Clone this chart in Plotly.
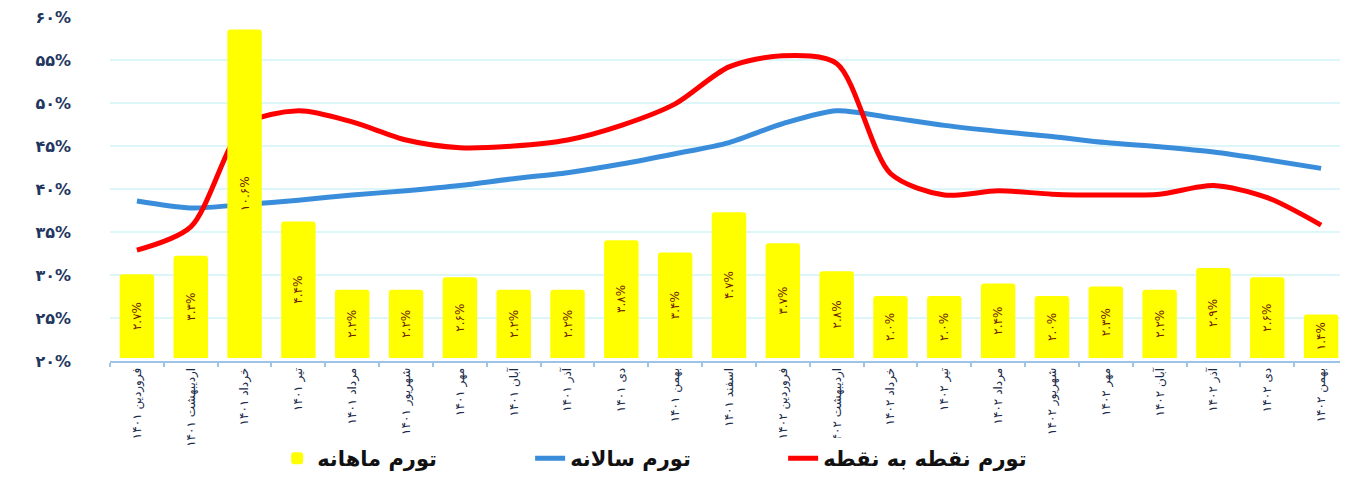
import plotly.graph_objects as go

categories = [
    "فروردین ۱۴۰۱", "اردیبهشت ۱۴۰۱", "خرداد ۱۴۰۱", "تیر ۱۴۰۱", "مرداد ۱۴۰۱",
    "شهریور ۱۴۰۱", "مهر ۱۴۰۱", "آبان ۱۴۰۱", "آذر ۱۴۰۱", "دی ۱۴۰۱",
    "بهمن ۱۴۰۱", "اسفند ۱۴۰۱", "فروردین ۱۴۰۲", "اردیبهشت ۱۴۰۲", "خرداد ۱۴۰۲",
    "تیر ۱۴۰۲", "مرداد ۱۴۰۲", "شهریور ۱۴۰۲", "مهر ۱۴۰۲", "آبان ۱۴۰۲",
    "آذر ۱۴۰۲", "دی ۱۴۰۲", "بهمن ۱۴۰۲",
]

monthly = [2.7, 3.3, 10.6, 4.4, 2.2, 2.2, 2.6, 2.2, 2.2, 3.8, 3.4, 4.7,
           3.7, 2.8, 2.0, 2.0, 2.4, 2.0, 2.3, 2.2, 2.9, 2.6, 1.4]
monthly_labels = ["۲.۷%", "۳.۳%", "۱۰.۶%", "۴.۴%", "۲.۲%", "۲.۲%", "۲.۶%", "۲.۲%",
                  "۲.۲%", "۳.۸%", "۳.۴%", "۴.۷%", "۳.۷%", "۲.۸%", "۲.۰%", "۲.۰%",
                  "۲.۴%", "۲.۰%", "۲.۳%", "۲.۲%", "۲.۹%", "۲.۶%", "۱.۴%"]

annual = [38.6, 37.8, 38.2, 38.7, 39.3, 39.8, 40.4, 41.2, 41.9, 42.9, 44.1, 45.4,
          47.6, 49.1, 48.3, 47.4, 46.7, 46.1, 45.4, 44.9, 44.3, 43.4, 42.4]

point_to_point = [32.9, 35.6, 47.4, 49.1, 47.8, 45.7, 44.8, 45.0, 45.7, 47.4, 49.9, 54.2,
                  55.5, 54.6, 41.8, 39.3, 39.8, 39.4, 39.3, 39.4, 40.4, 39.0, 35.8]

y_tickvals = [20, 25, 30, 35, 40, 45, 50, 55, 60]
y_ticktext = ["۲۰%", "۲۵%", "۳۰%", "۳۵%", "۴۰%", "۴۵%", "۵۰%", "۵۵%", "۶۰%"]

name_monthly = "تورم ماهانه"
name_annual = "تورم سالانه"
name_p2p = "تورم نقطه به نقطه"

FONT = "DejaVu Sans"
NAVY = "#1f3760"

fig = go.Figure()

fig.add_trace(go.Bar(
    x=categories, y=monthly, name=name_monthly, yaxis="y2",
    marker=dict(color="#ffff00", line=dict(width=0)),
    text=monthly_labels, textposition="inside", insidetextanchor="middle",
    textangle=-90, textfont=dict(family=FONT, size=12, color="#6e1b00"),
    width=0.64,
))

fig.add_trace(go.Scatter(
    x=categories, y=annual, name=name_annual, mode="lines",
    line=dict(color="#3a8ddb", width=5, shape="spline", smoothing=0.8),
))

fig.add_trace(go.Scatter(
    x=categories, y=point_to_point, name=name_p2p, mode="lines",
    line=dict(color="#ff0000", width=5, shape="spline", smoothing=0.8),
))

fig.update_layout(
    width=1340, height=471,
    margin=dict(l=102, r=0, t=9, b=115),
    paper_bgcolor="white", plot_bgcolor="white",
    barcornerradius=3,
    showlegend=True,
    legend=dict(
        orientation="h", x=0.135, xanchor="left", y=-0.285, yanchor="middle",
        font=dict(family=FONT, size=21, color="#111111", weight="bold"),
        entrywidth=208, traceorder="normal",
    ),
    xaxis=dict(
        type="category", range=[-0.5, 22.5], automargin=False,
        tickangle=-90, tickfont=dict(family=FONT, size=12, color="#1a2b4a"),
        showline=True, linecolor="#9dc3e6", linewidth=2,
        ticks="outside", tickcolor="#9dc3e6", ticklen=4, tickwidth=2,
        tickson="boundaries", showgrid=False, fixedrange=True,
    ),
    yaxis=dict(
        range=[20, 60], tickvals=y_tickvals, ticktext=y_ticktext, automargin=False,
        tickfont=dict(family=FONT, size=16, color=NAVY, weight="bold"),
        showgrid=True, gridcolor="#dcf6fa", gridwidth=1.5,
        zeroline=False, ticklabelstandoff=38, showline=False,
        ticklabeloverflow="allow",
    ),
    yaxis2=dict(
        overlaying="y", range=[-0.1, 11.0], visible=False, showgrid=False,
    ),
)

fig.write_html("out.html")
